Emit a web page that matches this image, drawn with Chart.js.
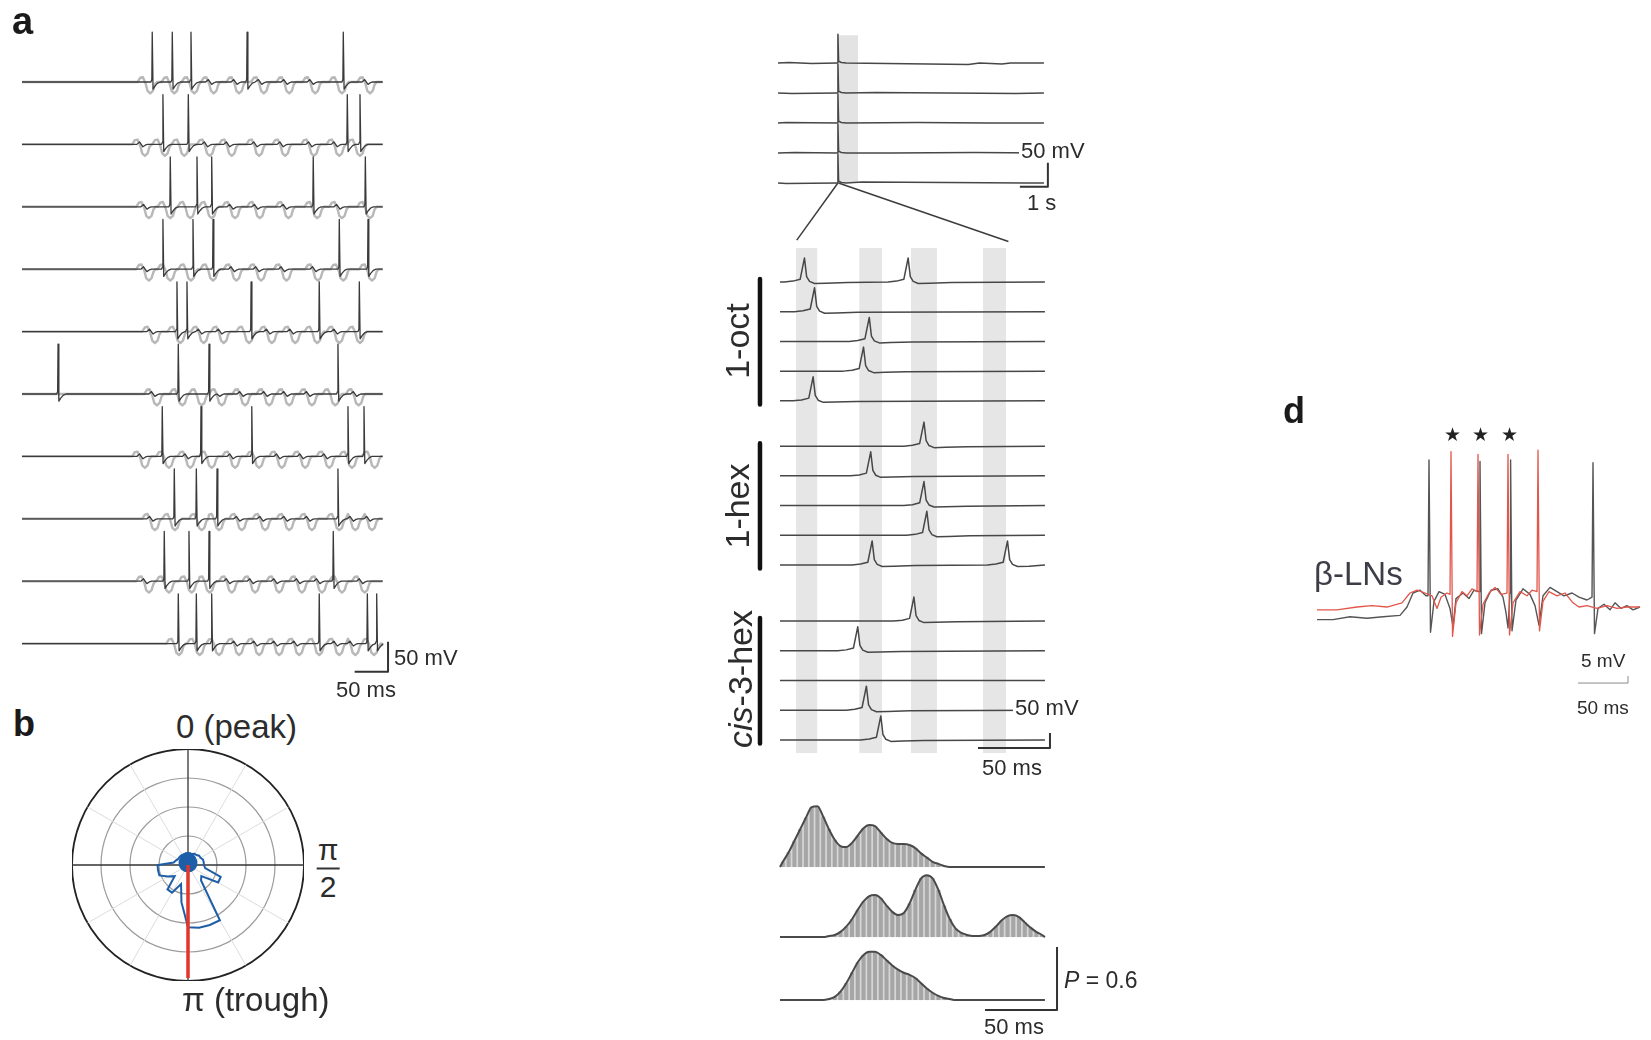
<!DOCTYPE html>
<html>
<head>
<meta charset="utf-8">
<title>Odor-evoked oscillations and spike timing</title>
<script src="https://cdn.jsdelivr.net/npm/chart.js@4.4.1/dist/chart.umd.min.js"></script>
<style>
  html, body { margin: 0; padding: 0; background: #fff; }
  #fig { position: relative; width: 1651px; height: 1040px; overflow: hidden;
         font-family: "Liberation Sans", Arial, Helvetica, sans-serif; color: #2c2c2c; }
  .lbl { position: absolute; white-space: nowrap; line-height: 1; }
</style>
</head>
<body>
<div id="fig"></div>
<script>
Chart.defaults.animation = false;
Chart.defaults.font.family = '"Liberation Sans", Arial, sans-serif';

// ---------------- panel a: 10 trials, spikes (black) over LFP (grey) ----------------
const aDuration = 540;            // ms
const aRowStep = 104;             // mV between stacked trials
const aSpikeTimes = [
  [195, 225, 253, 337, 481],
  [211, 249, 487, 506],
  [222, 262, 284, 436, 514],
  [211, 256, 286, 475, 518],
  [232, 247, 343, 445, 505],
  [54, 234, 280, 473],
  [210, 268, 344, 488, 512],
  [228, 261, 292, 473],
  [213, 250, 280, 466],
  [234, 261, 284, 445, 517, 531]
];
const aLfpTroughs = [
  [189, 225, 255, 284, 322, 359, 397, 436, 476, 518],
  [181, 211, 240, 278, 311, 352, 391, 434, 472, 503],
  [187, 219, 249, 281, 316, 353, 396, 439, 476, 518],
  [187, 219, 250, 283, 318, 355, 393, 440, 478, 521],
  [196, 234, 269, 299, 337, 371, 406, 439, 472, 503],
  [199, 237, 266, 296, 331, 367, 397, 431, 466, 501],
  [181, 217, 249, 281, 316, 352, 386, 421, 457, 491, 525],
  [196, 226, 266, 292, 326, 361, 397, 431, 472, 496, 521],
  [187, 217, 251, 278, 311, 346, 382, 416, 446, 476, 510],
  [232, 263, 292, 322, 352, 382, 412, 442, 472, 496, 524]
];
// waveform pieces: [ms from event, mV]
const aSpikeShape = [[-2, 0], [-0.6, 4], [0, 83], [1.2, -12], [4, -7], [8, -2], [12, 0]];
const aLfpShape = [[-16, 0], [-12, 7], [-8, 8], [-4, -2], [-1, -15], [3, -19], [7, -15], [10, -4], [13, 0]];
const aWiggleShape = [[-9, 0], [-5, 4], [0, -4], [4, -1], [7, 0]];

// ---------------- panel b: spike phase relative to LFP ----------------
const bAngles = Array.from({ length: 36 }, () => '');   // 10 degree steps, 0 = peak
const bRose = [0.4, 0.4, 0.4, 0.45, 0.45, 0.5, 0.5, 0.55, 0.55, 0.55, 0.6, 1.2,
               1.2, 0.6, 0.7, 2.2, 2.2, 2.2, 2.15, 1.3, 0.7, 1.1, 1.1, 0.6,
               0.8, 1.05, 1.05, 1.05, 0.5, 0.45, 0.4, 0.4, 0.4, 0.4, 0.4, 0.4];
const bCore = [0.42, 0.42, 0.4, 0.38, 0.36, 0.34, 0.33, 0.32, 0.3, 0.3, 0.28, 0.27,
               0.26, 0.25, 0.24, 0.24, 0.23, 0.22, 0.22, 0.22, 0.23, 0.24, 0.24, 0.25,
               0.26, 0.27, 0.28, 0.3, 0.3, 0.32, 0.33, 0.34, 0.36, 0.38, 0.4, 0.42];
const bMeanIndex = 18;            // pi (trough)
const bMeanLength = 3.9;

// ---------------- middle top: 5 long trials ----------------
const topDuration = 9.5;          // s
const topRowStep = 62.5;          // mV
const topSpikeTimes = [2.14, 2.14, 2.14, 2.14, 2.14];
const topDrift = [
  [[0.4, 1], [1.2, -1], [6.8, -3], [7.2, 0], [8.0, -2], [8.3, 0]],
  [[0.5, -1], [3.5, 1], [6.0, 0], [8.5, -1]],
  [[0.3, 1], [5.0, 1], [7.5, 0]],
  [[0.6, 1], [4.0, 0], [7.0, 1]],
  [[0.3, -1], [3.0, 2], [6.0, 1], [8.8, 0]]
];
const topSpikeShape = [[-0.03, 0], [0, 60], [0.025, 4], [0.12, 1], [0.3, 0]];
const topBand = [2.14, 2.86];
const topBandTop = 58;
const zoomLinks = [[[2.14, -250], [0.67, -369]], [[2.16, -250], [8.23, -372]]];

// ---------------- middle: 15 trials, three odors ----------------
const lowDuration = 184;          // ms
const lowGroups = ['1-oct', '1-hex', '<i>cis</i>-3-hex'];
const lowGroupOffset = [0, -547, -1130];
const lowRowStep = 99;
const lowSpikeTimes = [
  [[17, 89], [24], [62], [58], [23]],
  [[100], [63], [100], [102], [64, 158]],
  [[93], [54], [], [60], [70]]
];
const lowBands = [[11, 26], [55, 71], [91, 109], [141, 157]];
const pnSpikeShape = [[-14, 0], [-8, 3], [-3, 9], [0, 80], [1.5, 18], [3.5, 2], [7, -5], [15, -4], [30, -2]];

// ---------------- middle bottom: spike-time probability per odor ----------------
const histBinMs = 4;
const histOffset = [0, -0.667, -1.267];
const hist1 = [0.05, 0.14, 0.25, 0.36, 0.47, 0.57, 0.58, 0.48, 0.36, 0.26, 0.2, 0.19, 0.23, 0.3, 0.37, 0.4,
               0.39, 0.33, 0.27, 0.23, 0.22, 0.22, 0.21, 0.18, 0.13, 0.09, 0.05, 0.03, 0.01,
               0, 0, 0, 0, 0, 0, 0, 0, 0, 0, 0, 0, 0, 0, 0, 0, 0];
const hist2 = [0, 0, 0, 0, 0, 0, 0, 0, 0.01, 0.02, 0.05, 0.1, 0.17, 0.26, 0.34, 0.39, 0.4, 0.37,
               0.3, 0.24, 0.21, 0.23, 0.32, 0.45, 0.56, 0.59, 0.56, 0.45, 0.3, 0.17, 0.08, 0.04,
               0.02, 0.01, 0.01, 0.02, 0.05, 0.1, 0.16, 0.2, 0.21, 0.19, 0.14, 0.09, 0.05, 0.02];
const hist3 = [0, 0, 0, 0, 0, 0, 0, 0, 0.01, 0.03, 0.08, 0.16, 0.26, 0.36, 0.43, 0.46, 0.46, 0.43,
               0.38, 0.33, 0.29, 0.26, 0.24, 0.21, 0.16, 0.11, 0.07, 0.04, 0.02, 0.01,
               0, 0, 0, 0, 0, 0, 0, 0, 0, 0, 0, 0, 0, 0, 0, 0];

// ---------------- panel d: two beta-LN recordings ----------------
const dBlack = [
  [0, -14], [16, -14], [33, -12], [50, -13], [66, -12], [83, -11], [90, -5], [96, 5], [103, 7], [109, 3],
  [111, 3], [112, 100], [113.5, -23], [117, -1], [122, 6], [128, 4], [133, -6], [136, -19], [139, 1],
  [146, 5], [152, 1], [157, 7], [162, 6], [163, 99], [164.5, -24], [168, -2], [174, 7], [181, 8],
  [186, 2], [189, -9], [191, -20], [193, 5], [193.6, 100], [195, -22], [199, 0], [206, 8], [213, 4],
  [218, -4], [222, -18], [226, 3], [233, 9], [240, 6], [247, 3], [255, 5], [262, 2], [270, 0],
  [275, 2], [276, 98], [277.5, -24], [281, -6], [287, -3], [293, -7], [298, -2], [304, -6],
  [310, -4], [316, -7], [323, -5]
];
const dRed = [
  [0, -7], [20, -7], [40, -5], [55, -4], [70, -5], [85, -2], [93, 5], [100, 7], [108, 5], [115, 3],
  [120, -6], [124, 2], [130, 5], [133, 4], [134, 106], [135.5, -26], [139, -2], [145, 6], [150, 3],
  [155, 8], [160, 6], [161, 104], [162.5, -25], [166, -3], [172, 5], [178, 9], [184, 4], [190, 5],
  [191, 104], [192.5, -25], [196, -2], [203, 6], [210, 3], [215, 7], [220, 6], [221, 107],
  [222.5, -22], [226, -1], [232, 6], [240, 3], [248, 5], [256, -2], [262, -5], [270, -4],
  [280, -6], [290, -4], [300, -6], [310, -5], [323, -5]
];
const dStarTimes = [135, 163, 192];

// =====================================================================
const fig = document.getElementById('fig');

function makeChart(box, config) {
  const c = document.createElement('canvas');
  c.width = box.w;
  c.height = box.h;
  c.style.cssText = `position:absolute;left:${box.x}px;top:${box.y}px;`;
  fig.appendChild(c);
  return new Chart(c, config);
}

function traceOptions(xr, yr) {
  return {
    responsive: false,
    animation: false,
    events: [],
    layout: { padding: 0 },
    plugins: { legend: { display: false }, tooltip: { enabled: false } },
    scales: {
      x: { type: 'linear', display: false, min: xr[0], max: xr[1], offset: false },
      y: { type: 'linear', display: false, min: yr[0], max: yr[1] }
    },
    elements: { point: { radius: 0 }, line: { tension: 0, borderJoinStyle: 'round' } }
  };
}

function line(data, color, width, extra) {
  return Object.assign({ type: 'line', data, borderColor: color, borderWidth: width,
    pointRadius: 0, fill: false, order: 1 }, extra || {});
}

// stitch waveform pieces onto a flat baseline, in time order
function buildTrace(events, t0, t1, base) {
  const pts = [{ x: t0, y: base }];
  let last = t0;
  events.slice().sort((p, q) => p.t - q.t).forEach(ev => {
    ev.shape.forEach(([dt, v]) => {
      const t = ev.t + dt;
      if (t > last && t < t1) { pts.push({ x: t, y: base + v }); last = t; }
    });
  });
  pts.push({ x: t1, y: base });
  return pts;
}

function scaleBar(x, y, dx, dy) {
  return [{ x: x - dx, y }, { x, y }, { x, y: y + dy }];
}

function label(html, x, y, o) {
  o = o || {};
  const d = document.createElement('div');
  d.className = 'lbl';
  d.innerHTML = html;
  d.style.left = x + 'px';
  d.style.top = y + 'px';
  d.style.fontSize = (o.size || 22) + 'px';
  if (o.bold) d.style.fontWeight = 'bold';
  if (o.color) d.style.color = o.color;
  if (o.bg) { d.style.background = '#fff'; d.style.padding = '0 2px'; }
  d.style.transform = (o.center ? 'translate(-50%,-50%)' : 'translateY(-50%)') +
    (o.rotate ? ` rotate(${o.rotate}deg)` : '');
  fig.appendChild(d);
}

// ---------- panel a ----------
(function () {
  const ds = [];
  aSpikeTimes.forEach((spikes, i) => {
    const base = -i * aRowStep;
    const troughs = aLfpTroughs[i];
    ds.push(line(buildTrace(troughs.map(t => ({ t, shape: aLfpShape })), 0, aDuration, base),
      '#b8b8b8', 2.4, { order: 3 }));
    const ev = spikes.map(t => ({ t, shape: aSpikeShape })).concat(
      troughs.filter(t => spikes.every(s => Math.abs(s - t) > 14)).map(t => ({ t, shape: aWiggleShape })));
    ds.push(line(buildTrace(ev, 0, aDuration, base), '#3a3a3a', 1.3, { order: 2 }));
  });
  ds.push(line(scaleBar(548, -983, 50, 50), '#333', 2, { order: 0 }));
  makeChart({ x: 0, y: 20, w: 400, h: 680 },
    { type: 'line', data: { datasets: ds }, options: traceOptions([-32.9, 565.9], [-1030, 103.3]) });
})();
label('a', 12, 21, { size: 38, bold: true, color: '#1a1a1a' });
label('50 mV', 394, 658, { size: 22 });
label('50 ms', 336, 690, { size: 22 });

// ---------- panel b ----------
makeChart({ x: 72, y: 749, w: 232, h: 232 }, {
  type: 'radar',
  data: {
    labels: bAngles,
    datasets: [
      { data: bAngles.map((_, i) => (i === bMeanIndex ? bMeanLength : 0)), borderColor: '#e2352b',
        borderWidth: 3.5, pointRadius: 0, fill: false, order: 0 },
      { data: bRose, borderColor: '#1d5ea8', borderWidth: 2, pointRadius: 0, fill: false, order: 1 },
      { data: bCore, borderColor: '#1d5ea8', backgroundColor: '#1d5ea8', borderWidth: 1.5,
        pointRadius: 0, fill: true, order: 2 }
    ]
  },
  options: {
    responsive: false, animation: false, events: [],
    layout: { padding: 0 },
    plugins: { legend: { display: false }, tooltip: { enabled: false } },
    elements: { line: { tension: 0 } },
    scales: {
      r: {
        min: 0, max: 4,
        ticks: { display: false, stepSize: 1 },
        pointLabels: { display: false },
        grid: {
          circular: true,
          color: c => (c.tick && c.tick.value === 4 ? '#222' : '#9c9c9c'),
          lineWidth: c => (c.tick && c.tick.value === 4 ? 1.8 : 1.2)
        },
        angleLines: {
          color: c => (c.index % 9 === 0 ? '#333' : (c.index % 3 === 0 ? '#dcdcdc' : 'rgba(0,0,0,0)')),
          lineWidth: c => (c.index % 9 === 0 ? 1.3 : 1)
        }
      }
    }
  }
});
label('b', 13, 724, { size: 36, bold: true, color: '#1a1a1a' });
label('0 (peak)', 176, 726, { size: 33 });
label('π (trough)', 182, 999, { size: 33 });
label('<span style="display:inline-flex;flex-direction:column;align-items:center">' +
  '<span>π</span><span style="border-top:2px solid #333;margin-top:3px;padding:2px 3px 0">2</span></span>',
  328, 868, { size: 30, center: true });

// ---------- middle top ----------
(function () {
  const ds = [];
  topSpikeTimes.forEach((t, i) => {
    const base = -i * topRowStep;
    const ev = [{ t, shape: topSpikeShape }].concat(topDrift[i].map(([td, v]) => ({ t: td, shape: [[0, v]] })));
    ds.push(line(buildTrace(ev, 0, topDuration, base), '#474747', 1.5));
  });
  const bottom = -(topSpikeTimes.length - 1) * topRowStep;
  ds.push(line([{ x: topBand[0], y: topBandTop }, { x: topBand[1], y: topBandTop }], 'rgba(0,0,0,0)', 0,
    { fill: { value: bottom }, backgroundColor: '#e3e3e3', order: 5 }));
  zoomLinks.forEach(seg => ds.push(line(seg.map(([x, y]) => ({ x, y })), '#3c3c3c', 1.5)));
  ds.push(line(scaleBar(9.64, -258, 1, 50), '#333', 2, { order: 0 }));
  makeChart({ x: 770, y: 25, w: 300, h: 225 },
    { type: 'line', data: { datasets: ds }, options: traceOptions([-0.286, 10.43], [-389.6, 79.2]) });
})();
label('50 mV', 1019, 151, { size: 22, bg: true });
label('1 s', 1027, 203, { size: 22 });

// ---------- middle traces ----------
(function () {
  const ds = [];
  lowSpikeTimes.forEach((group, g) => {
    group.forEach((spikes, r) => {
      const base = lowGroupOffset[g] - r * lowRowStep;
      ds.push(line(buildTrace(spikes.map(t => ({ t, shape: pnSpikeShape })), 0, lowDuration, base),
        '#474747', 1.5));
    });
    const top = lowGroupOffset[g] + 10;
    const bot = lowGroupOffset[g] - (group.length - 1) * lowRowStep - 12;
    ds.push(line([{ x: -13.9, y: top }, { x: -13.9, y: bot }], '#111', 4.5, { order: 0 }));
  });
  lowBands.forEach(([a, b]) => ds.push(line([{ x: a, y: 113 }, { x: b, y: 113 }], 'rgba(0,0,0,0)', 0,
    { fill: { value: -1570 }, backgroundColor: '#e6e6e6', order: 5 })));
  ds.push(line(scaleBar(187.5, -1553, 50, 50), '#333', 2, { order: 0 }));
  makeChart({ x: 750, y: 240, w: 340, h: 520 },
    { type: 'line', data: { datasets: ds }, options: traceOptions([-20.83, 215.3], [-1593, 140]) });
})();
label(lowGroups[0], 737, 341, { size: 34, center: true, rotate: -90 });
label(lowGroups[1], 737, 506, { size: 34, center: true, rotate: -90 });
label(lowGroups[2], 740, 679, { size: 34, center: true, rotate: -90 });
label('50 mV', 1013, 708, { size: 22, bg: true });
label('50 ms', 982, 768, { size: 22 });

// ---------- spike-time histograms ----------
(function () {
  const ds = [];
  [hist1, hist2, hist3].forEach((h, k) => {
    const off = histOffset[k];
    const centers = h.map((_, i) => i * histBinMs + histBinMs / 2);
    const curve = [{ x: 0, y: off }].concat(h.map((v, i) => ({ x: centers[i], y: off + v })),
      [{ x: lowDuration, y: off }]);
    // light area under the smoothed curve, striped bins on it, outline on top
    ds.push(line(curve, 'rgba(0,0,0,0)', 0, { cubicInterpolationMode: 'monotone',
      fill: { value: off }, backgroundColor: '#d6d6d6', order: 4 }));
    ds.push({ type: 'bar', data: h.map((v, i) => ({ x: centers[i], y: [off, off + v] })),
      backgroundColor: '#a6a6a6', borderWidth: 0, grouped: false,
      barPercentage: 0.7, categoryPercentage: 1, order: 3 });
    ds.push(line(curve, '#4a4a4a', 2, { cubicInterpolationMode: 'monotone', order: 2 }));
  });
  ds.push(line(scaleBar(192.4, -1.362, 50, 0.6), '#333', 2, { order: 0 }));
  makeChart({ x: 750, y: 780, w: 340, h: 250 },
    { type: 'line', data: { datasets: ds }, options: traceOptions([-20.83, 215.3], [-1.552, 0.829]) });
})();
label('<i>P</i> = 0.6', 1064, 980, { size: 23 });
label('50 ms', 984, 1027, { size: 22 });

// ---------- panel d ----------
(function () {
  const ds = [
    line(dRed.map(([x, y]) => ({ x, y })), '#e2574c', 1.3, { order: 1 }),
    line(dBlack.map(([x, y]) => ({ x, y })), '#555', 1.4, { order: 2 }),
    line(scaleBar(311, -59.3, 50, 5), '#8a8a8a', 1, { order: 0 })
  ];
  makeChart({ x: 1300, y: 430, w: 350, h: 270 },
    { type: 'line', data: { datasets: ds }, options: traceOptions([-17, 333], [-71.4, 121.4]) });
})();
label('d', 1283, 411, { size: 36, bold: true, color: '#1a1a1a' });
dStarTimes.forEach(t => label('★', 1317 + t, 434, { size: 19, center: true, color: '#222' }));
label('β-LNs', 1314, 573, { size: 33, color: '#3d3d48' });
label('5 mV', 1581, 660, { size: 19 });
label('50 ms', 1577, 707, { size: 19 });
</script>
</body>
</html>
